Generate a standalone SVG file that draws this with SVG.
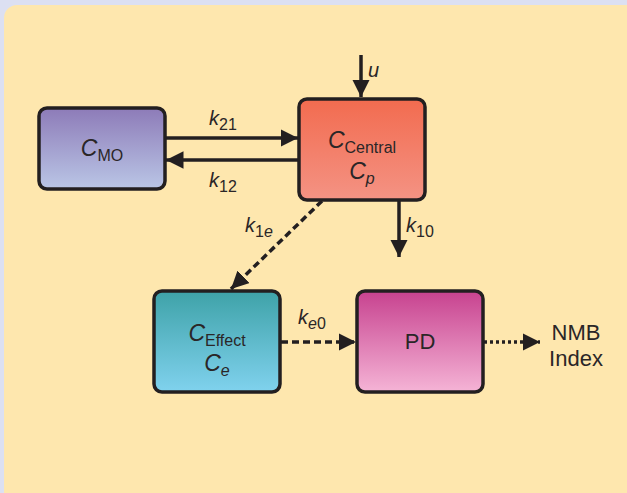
<svg xmlns="http://www.w3.org/2000/svg" width="627" height="493" viewBox="0 0 627 493">
  <defs>
    <linearGradient id="gMO" x1="0" y1="0" x2="0" y2="1">
      <stop offset="0" stop-color="#8d7bb8"/>
      <stop offset="1" stop-color="#bac6e6"/>
    </linearGradient>
    <linearGradient id="gCentral" x1="0" y1="0" x2="0" y2="1">
      <stop offset="0" stop-color="#f26b4f"/>
      <stop offset="1" stop-color="#f49384"/>
    </linearGradient>
    <linearGradient id="gEffect" x1="0" y1="0" x2="0" y2="1">
      <stop offset="0" stop-color="#3ea2a8"/>
      <stop offset="1" stop-color="#80d2ee"/>
    </linearGradient>
    <linearGradient id="gPD" x1="0" y1="0" x2="0" y2="1">
      <stop offset="0" stop-color="#c7428f"/>
      <stop offset="1" stop-color="#f5b4d6"/>
    </linearGradient>
    <marker id="head" viewBox="0 0 10 10" refX="10" refY="5" markerWidth="5" markerHeight="5" markerUnits="strokeWidth" orient="auto">
      <path d="M0,0 L10,5 L0,10 Z" fill="#231f20"/>
    </marker>
  </defs>
  <style>
    .box { stroke: #231f20; stroke-width: 3.5; }
    .line { stroke: #231f20; stroke-width: 3.5; fill: none; }
    .dash { stroke-dasharray: 7 4; }
    .dot { stroke-dasharray: 3 3; }
    text { font-family: "Liberation Sans", Arial, sans-serif; fill: #2a2627; }
    .var { font-size: 23px; font-style: italic; }
    .lbl { font-size: 20px; font-style: italic; }
    .sub { font-size: 16px; font-style: normal; }
    .subi { font-size: 16px; font-style: italic; }
    .plain { font-size: 22px; }
  </style>

  <!-- backdrop and panel -->
  <rect x="0" y="0" width="627" height="493" fill="#dce0f2"/>
  <rect x="4" y="5" width="640" height="500" rx="13" fill="#fee7ae"/>

  <!-- connectors -->
  <g id="connectors">
    <line class="line" x1="165" y1="138" x2="298" y2="138" marker-end="url(#head)"/>
    <line class="line" x1="298" y1="160" x2="166" y2="160" marker-end="url(#head)"/>
    <line class="line" x1="361" y1="55" x2="361" y2="97" marker-end="url(#head)"/>
    <line class="line" x1="399" y1="201" x2="399" y2="257" marker-end="url(#head)"/>
    <line class="line dash" x1="322" y1="201" x2="231" y2="289" marker-end="url(#head)"/>
    <line class="line dash" x1="281" y1="342" x2="356" y2="342" marker-end="url(#head)"/>
    <line class="line dot" x1="484" y1="342" x2="540" y2="342" marker-end="url(#head)"/>

    <text class="lbl" x="209" y="125">k<tspan class="sub" dy="5">21</tspan></text>
    <text class="lbl" x="209" y="187">k<tspan class="sub" dy="5">12</tspan></text>
    <text class="lbl" x="368" y="77">u</text>
    <text class="lbl" x="406" y="232">k<tspan class="sub" dy="5">10</tspan></text>
    <text class="lbl" x="245" y="232">k<tspan class="sub" dy="5">1</tspan><tspan class="subi">e</tspan></text>
    <text class="lbl" x="298" y="324">k<tspan class="subi" dy="5">e</tspan><tspan class="sub">0</tspan></text>
  </g>

  <!-- C_MO compartment -->
  <g id="node-mo">
    <rect class="box" x="39" y="108" width="126" height="81" rx="8" fill="url(#gMO)"/>
    <text class="var" x="102" y="156" text-anchor="middle">C<tspan class="sub" dy="5">MO</tspan></text>
  </g>

  <!-- central compartment -->
  <g id="node-central">
    <rect class="box" x="299" y="99" width="126" height="101" rx="8" fill="url(#gCentral)"/>
    <text class="var" x="362" y="148" text-anchor="middle">C<tspan class="sub" dy="5">Central</tspan></text>
    <text class="var" x="362" y="179" text-anchor="middle">C<tspan class="subi" dy="5">p</tspan></text>
  </g>

  <!-- effect compartment -->
  <g id="node-effect">
    <rect class="box" x="154" y="291" width="126" height="101" rx="8" fill="url(#gEffect)"/>
    <text class="var" x="217" y="341" text-anchor="middle">C<tspan class="sub" dy="5">Effect</tspan></text>
    <text class="var" x="217" y="371" text-anchor="middle">C<tspan class="subi" dy="5">e</tspan></text>
  </g>

  <!-- pharmacodynamics -->
  <g id="node-pd">
    <rect class="box" x="357" y="291" width="126" height="101" rx="8" fill="url(#gPD)"/>
    <text class="plain" x="420" y="349" text-anchor="middle">PD</text>
  </g>

  <!-- output -->
  <g id="node-nmb">
    <text class="plain" x="576" y="340" text-anchor="middle">NMB</text>
    <text class="plain" x="576" y="366" text-anchor="middle">Index</text>
  </g>
</svg>
